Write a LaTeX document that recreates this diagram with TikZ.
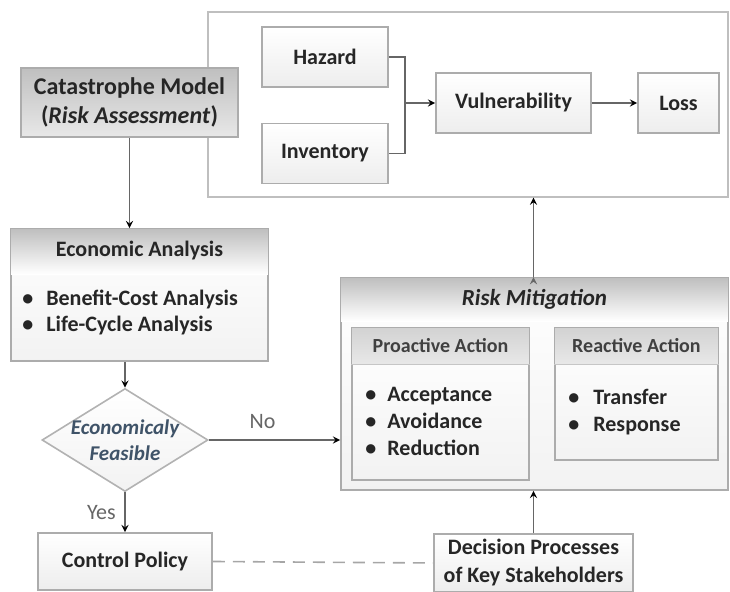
\documentclass[tikz,border=0pt]{standalone}
\usepackage{fontspec}
\setmainfont{Carlito}
\usetikzlibrary{arrows, shapes.geometric, positioning}
\definecolor{feasblue}{HTML}{3F5368}

\begin{document}
\begin{tikzpicture}[x=0.5pt, y=0.5pt, ->, >=stealth,
	box/.style={rectangle, draw=gray!65, line width=0.9pt, top color=white, bottom color=gray!14, inner sep=2pt, font=\fontsize{11}{13}\selectfont\bfseries, text=black!85},
	panel/.style={rectangle, draw=gray!65, line width=0.9pt, top color=white, bottom color=gray!10, inner sep=0pt},
	title/.style={font=\fontsize{11}{13}\selectfont\bfseries, text=black!85},
	items/.style={align=left, anchor=west, font=\fontsize{11}{13.3}\selectfont\bfseries, text=black!85, inner sep=0pt},
	lbl/.style={font=\fontsize{11}{13}\selectfont, text=black!60},
	link/.style={draw=black!60, line width=0.6pt}]

	\useasboundingbox (0,0) rectangle (730,-592);

	% hazard / inventory / vulnerability / loss
	\node[draw=gray!50, line width=0.6pt, minimum width=260pt, minimum height=92.5pt, inner sep=0pt] (frame) at (468,-104.5) {};
	\node[box, minimum width=63pt, minimum height=30pt] (hazard) at (325,-57) {Hazard};
	\node[box, minimum width=63pt, minimum height=30pt] (inventory) at (325,-153.5) {Inventory};
	\node[box, minimum width=77.5pt, minimum height=30pt] (vuln) at (513.5,-103) {Vulnerability};
	\node[box, minimum width=40.5pt, minimum height=30pt] (loss) at (678.5,-103) {Loss};
	\coordinate (join) at (405,-103);

	% left column
	\node[box, font=\fontsize{12}{14.5}\selectfont\bfseries, top color=gray!50, bottom color=gray!18, align=center, minimum width=108.5pt, minimum height=34.5pt] (cat) at (129.5,-102.5) {Catastrophe Model\\(\textit{Risk Assessment})};

	\node[panel, minimum width=128.5pt, minimum height=66pt] (econ) at (139.5,-295) {};
	\shade[top color=gray!50, bottom color=white] ([xshift=0.5pt,yshift=-0.5pt]econ.north west) rectangle ([xshift=-0.5pt,yshift=-23pt]econ.north east);
	\node[title] (econtitle) at ([yshift=-11pt]econ.north) {Economic Analysis};
	\node[items] (econitems) at (22,-312.5) {\textbullet\hspace{6.5pt}Benefit-Cost Analysis\\\textbullet\hspace{6.5pt}Life-Cycle Analysis};

	\node[diamond, draw=gray!60, line width=0.8pt, top color=white, bottom color=gray!10, minimum width=83pt, minimum height=51.5pt, inner sep=0pt] (feasible) at (125,-440) {};
	\node[font=\fontsize{10.5}{13}\selectfont\bfseries\itshape, text=feasblue, align=center] (feastext) at (feasible) {Economicaly\\Feasible};

	\node[box, minimum width=87pt, minimum height=28.5pt] (control) at (125,-561.5) {Control Policy};

	% risk mitigation
	\node[panel, minimum width=193.5pt, minimum height=106pt] (risk) at (534.5,-384) {};
	\shade[top color=gray!50, bottom color=white] ([xshift=0.5pt,yshift=-0.5pt]risk.north west) rectangle ([xshift=-0.5pt,yshift=-22pt]risk.north east);
	\node[title, font=\fontsize{11.5}{13}\selectfont\bfseries\itshape] (risktitle) at ([yshift=-11pt]risk.north) {Risk Mitigation};

	\node[panel, minimum width=88.5pt, minimum height=76pt] (proactive) at (440.5,-404) {};
	\shade[top color=gray!35, bottom color=gray!18] ([xshift=0.5pt,yshift=-0.5pt]proactive.north west) rectangle ([xshift=-0.5pt,yshift=-18.5pt]proactive.north east);
	\draw[-, gray!45, line width=0.5pt] ([yshift=-18.5pt]proactive.north west) -- ([yshift=-18.5pt]proactive.north east);
	\node[title, font=\fontsize{10}{12}\selectfont\bfseries, text=black!75] (protitle) at ([yshift=-9pt]proactive.north) {Proactive Action};
	\node[items] (proitems) at (365,-421.5) {\textbullet\hspace{5.5pt}Acceptance\\\textbullet\hspace{5.5pt}Avoidance\\\textbullet\hspace{5.5pt}Reduction};

	\node[panel, minimum width=81.5pt, minimum height=66pt] (reactive) at (636.5,-394) {};
	\shade[top color=gray!35, bottom color=gray!18] ([xshift=0.5pt,yshift=-0.5pt]reactive.north west) rectangle ([xshift=-0.5pt,yshift=-18.5pt]reactive.north east);
	\draw[-, gray!45, line width=0.5pt] ([yshift=-18.5pt]reactive.north west) -- ([yshift=-18.5pt]reactive.north east);
	\node[title, font=\fontsize{10}{12}\selectfont\bfseries, text=black!75] (reacttitle) at ([yshift=-9pt]reactive.north) {Reactive Action};
	\node[items] (reactitems) at (568,-412) {\textbullet\hspace{7pt}Transfer\\\textbullet\hspace{7pt}Response};

	\node[box, align=center, font=\fontsize{11}{14}\selectfont\bfseries, minimum width=99.5pt, minimum height=29pt] (decision) at (533.5,-563) {Decision Processes\\of Key Stakeholders};

	% connectors
	\draw[link, -] (hazard.east) -| (join) |- (inventory.east);
	\path[link]
	(join) edge (vuln)
	(vuln) edge (loss)
	(cat.south) edge (cat.south |- econ.north)
	(feasible.north |- econ.south) edge (feasible.north)
	(feasible.east) edge node[lbl, above, pos=0.41, yshift=2pt] {No} (feasible.east -| risk.west)
	(feasible.south) edge node[lbl, left, xshift=-1pt] {Yes} (control.north)
	(decision.north) edge (decision.north |- risk.south)
	(risk.north -| decision.north) edge (frame.south -| decision.north);
	\draw[-, dashed, draw=gray!70, line width=0.8pt, dash pattern=on 6pt off 4pt] (control.east) -- (decision.west);

\end{tikzpicture}
\end{document}
